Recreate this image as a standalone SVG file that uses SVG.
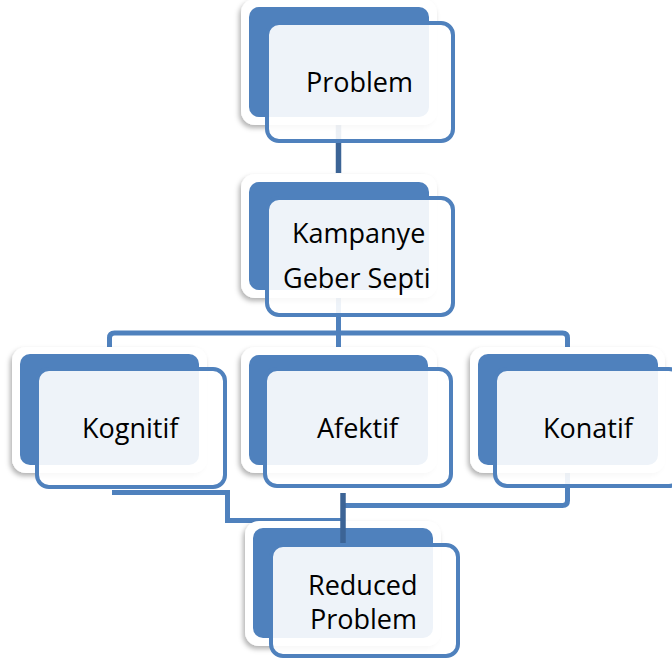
<svg xmlns="http://www.w3.org/2000/svg" width="672" height="661" viewBox="0 0 672 661">
<defs>
<filter id="sh" x="-10%" y="-10%" width="120%" height="130%">
<feDropShadow dx="-2" dy="3" stdDeviation="2.5" flood-color="#000" flood-opacity="0.3"/>
</filter>
</defs>
<style>
.wb{fill:#fff;filter:url(#sh)}
.bl{fill:#4F81BD}
.fr{fill:#fff;fill-opacity:0.9;stroke:#4F81BD;stroke-width:4}
.c{fill:none;stroke:#4F81BD;stroke-width:5}
.cd{fill:none;stroke:#3C6496;stroke-width:5.5}
text{font-family:"Open Sans","Noto Sans",sans-serif;font-size:27px;fill:#000}
</style>
<rect width="672" height="661" fill="#fff"/>
<g id="connectors">
<path class="cd" d="M338.5,120 V173"/>
<path class="c" d="M338.5,290 V350 M109.5,352 V338 Q109.5,333 114.5,333 H562.5 Q567.5,333 567.5,338 V352"/>
<path class="c" stroke-linejoin="miter" d="M112,492.5 H227.5 V520.5 H343"/>
<path class="c" d="M343,505.5 H562.5 Q567.5,505.5 567.5,500.5 V460"/>
</g>
<g id="node-problem">
<rect class="wb" x="241" y="-1" width="196" height="126" rx="14"/>
<rect class="bl" x="249" y="7" width="180" height="110" rx="10"/>
<rect class="fr" x="267" y="23" width="186" height="118" rx="12"/>
<text x="306" y="92">Problem</text>
</g>
<g id="node-kampanye">
<rect class="wb" x="241" y="174" width="196" height="124" rx="14"/>
<rect class="bl" x="249" y="182" width="180" height="108" rx="10"/>
<rect class="fr" x="267" y="198" width="186" height="117" rx="12"/>
<text x="292" y="243">Kampanye</text>
<text x="283" y="288">Geber Septi</text>
</g>
<g id="node-kognitif">
<rect class="wb" x="12" y="347" width="195" height="126" rx="14"/>
<rect class="bl" x="20" y="354" width="179" height="111" rx="10"/>
<rect class="fr" x="37" y="369" width="188" height="118" rx="12"/>
<text x="82" y="438">Kognitif</text>
</g>
<g id="node-afektif">
<rect class="wb" x="241" y="347" width="196" height="126" rx="14"/>
<rect class="bl" x="249" y="355" width="179" height="110" rx="10"/>
<rect class="fr" x="265" y="369" width="186" height="117" rx="12"/>
<text x="317" y="438">Afektif</text>
</g>
<g id="node-konatif">
<rect class="wb" x="470" y="347" width="195" height="126" rx="14"/>
<rect class="bl" x="478" y="354" width="180" height="111" rx="10"/>
<rect class="fr" x="495" y="369" width="186" height="117" rx="12"/>
<text x="543" y="438">Konatif</text>
</g>
<g id="node-reduced">
<rect class="wb" x="245" y="521" width="196" height="125" rx="14"/>
<rect class="bl" x="253" y="528" width="180" height="110" rx="10"/>
<path class="cd" d="M343,493 V545"/>
<rect class="fr" x="271" y="545" width="187" height="111" rx="12"/>
<text x="308" y="595">Reduced</text>
<text x="310" y="629">Problem</text>
</g>
</svg>
